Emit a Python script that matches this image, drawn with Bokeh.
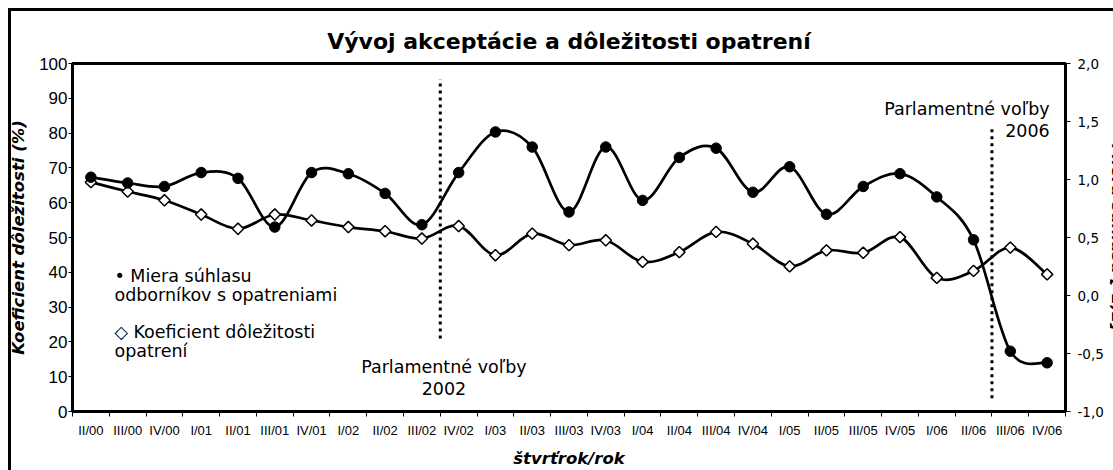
import numpy as np
from math import pi
from bokeh.plotting import figure
from bokeh.models import (Range1d, LinearAxis, FixedTicker, CustomJSTickFormatter,
                          Label, SingleIntervalTicker)
from bokeh.embed import file_html
from bokeh.resources import INLINE

# ---------------- data ----------------
quarters = ["II/00", "III/00", "IV/00", "I/01", "II/01", "III/01", "IV/01", "I/02",
            "II/02", "III/02", "IV/02", "I/03", "II/03", "III/03", "IV/03", "I/04",
            "II/04", "III/04", "IV/04", "I/05", "II/05", "III/05", "IV/05", "I/06",
            "II/06", "III/06", "IV/06"]

# Miera súhlasu odborníkov s opatreniami (right axis, -1..2)
agreement = [1.02, 0.97, 0.94, 1.06, 1.01, 0.59, 1.06, 1.05, 0.88, 0.61, 1.06, 1.41,
             1.28, 0.72, 1.28, 0.82, 1.19, 1.27, 0.89, 1.11, 0.70, 0.94, 1.05, 0.85,
             0.48, -0.48, -0.58]

# Koeficient dôležitosti opatrení (left axis, %)
importance = [65.9, 63.2, 60.7, 56.6, 52.5, 56.6, 54.9, 53.0, 51.8, 49.7, 53.3, 44.9,
              51.1, 47.8, 49.2, 43.0, 45.8, 51.6, 48.2, 41.7, 46.3, 45.6, 50.1, 38.4,
              40.4, 47.1, 39.4]

# elections: placed at the boundary before the given quarter
election_quarters = ["IV/02", "III/06"]
election_names = ["2002", "2006"]

left_ticks = list(range(0, 101, 10))

# ---------------- figure ----------------
n = len(quarters)
xs = np.arange(n) + 0.5

# the chart is wider than the window: its right edge is cut off, as in the original
p = figure(width=1140, height=470, x_range=Range1d(0, n), y_range=Range1d(0, 100),
           output_backend="svg", toolbar_location=None,
           title="Vývoj akceptácie a dôležitosti opatrení",
           min_border_left=72, min_border_right=75, min_border_top=63, min_border_bottom=58)
p.extra_y_ranges = {"r": Range1d(-1, 2)}
p.xgrid.visible = False
p.ygrid.visible = False
p.outline_line_color = "black"
p.outline_line_width = 3
p.background_fill_color = "white"
p.border_fill_color = None
# outer chart border (top and left edges, the rest lies outside the window)
p.styles = {"background-image": "linear-gradient(#000,#000), linear-gradient(#000,#000)",
            "background-size": "100% 3px, 3px 100%",
            "background-position": "8px 8px, 8px 8px",
            "background-repeat": "no-repeat"}
try:
    from bokeh.models import GlobalInlineStyleSheet
    p.stylesheets = [GlobalInlineStyleSheet(css="html, body { overflow: hidden !important; }")]
except Exception:
    pass

t = p.title
t.align = "center"
t.text_font = "DejaVu Sans"
t.text_font_size = "22px"
t.text_font_style = "bold"
t.text_color = "black"
t.standoff = 19

# x axis
xa = p.xaxis[0]
xa.ticker = FixedTicker(ticks=list(xs), minor_ticks=list(range(n + 1)))
xa.formatter = CustomJSTickFormatter(args=dict(labels=quarters), code="""
const i = Math.round(tick - 0.5);
return (i >= 0 && i < labels.length) ? labels[i] : '';
""")
xa.axis_line_width = 3
xa.major_tick_line_color = None
xa.major_tick_out = 5
xa.major_tick_in = 0
xa.minor_tick_out = 5
xa.minor_tick_in = 0
xa.minor_tick_line_width = 1
xa.major_label_standoff = 6
xa.major_label_text_font = "Liberation Sans"
xa.major_label_text_font_size = "13px"
xa.major_label_text_color = "black"
xa.axis_label = "štvrťrok/rok"
xa.axis_label_text_font = "DejaVu Sans"
xa.axis_label_text_font_size = "16.5px"
xa.axis_label_text_font_style = "bold italic"
xa.axis_label_text_color = "black"
xa.axis_label_standoff = 8

# left axis
ya = p.yaxis[0]
ya.ticker = FixedTicker(ticks=left_ticks)
ya.axis_line_width = 3
ya.major_tick_out = 4
ya.major_tick_in = 0
ya.minor_tick_line_color = None
ya.major_label_standoff = 1
ya.major_label_text_font = "Liberation Sans"
ya.major_label_text_font_size = "17px"
ya.major_label_text_color = "black"
ya.axis_label = "Koeficient dôležitosti (%)"
ya.axis_label_text_font = "DejaVu Sans"
ya.axis_label_text_font_size = "16.5px"
ya.axis_label_text_font_style = "bold italic"
ya.axis_label_text_color = "black"
ya.axis_label_standoff = 8

# right axis
ra = LinearAxis(y_range_name="r", ticker=SingleIntervalTicker(interval=0.5),
                formatter=CustomJSTickFormatter(code="return tick.toFixed(1).replace('.', ',');"))
ra.axis_line_width = 3
ra.major_tick_out = 5
ra.major_tick_in = 0
ra.minor_tick_line_color = None
ra.major_label_standoff = 7
ra.major_label_text_font = "DejaVu Sans"
ra.major_label_text_font_size = "13.5px"
ra.major_label_text_color = "black"
ra.axis_label = "Miera súhlasu [-2;2]"
ra.axis_label_text_font = "DejaVu Sans"
ra.axis_label_text_font_size = "16.5px"
ra.axis_label_text_font_style = "bold italic"
ra.axis_label_text_color = "black"
ra.axis_label_standoff = 1
p.add_layout(ra, "right")


# ---------------- smoothed lines (Catmull-Rom as cubic Bezier) ----------------
def bezier_segments(x, y):
    x = np.asarray(x, float)
    y = np.asarray(y, float)
    xp = np.concatenate([[x[0]], x, [x[-1]]])
    yp = np.concatenate([[y[0]], y, [y[-1]]])
    x0, y0 = x[:-1], y[:-1]
    x1, y1 = x[1:], y[1:]
    cx0 = x0 + (xp[2:-1] - xp[:-3]) / 6.0
    cy0 = y0 + (yp[2:-1] - yp[:-3]) / 6.0
    cx1 = x1 - (xp[3:] - xp[1:-2]) / 6.0
    cy1 = y1 - (yp[3:] - yp[1:-2]) / 6.0
    return dict(x0=x0, y0=y0, x1=x1, y1=y1, cx0=cx0, cy0=cy0, cx1=cx1, cy1=cy1)

p.bezier(line_color="black", line_width=2.7, **bezier_segments(xs, importance))
p.bezier(line_color="black", line_width=2.7, y_range_name="r", **bezier_segments(xs, agreement))

p.scatter(xs, importance, marker="square", angle=pi / 4, size=8,
          fill_color="white", line_color="black", line_width=1.5)
p.scatter(xs, agreement, marker="circle", size=10.5, y_range_name="r",
          fill_color="black", line_color="black")

# election lines
ex = [quarters.index(q) for q in election_quarters]
p.segment(x0=ex, x1=ex, y0=[21.0, 3.8], y1=[95.5, 81.2], line_color="black",
          line_width=3, line_dash="3 4")

# ---------------- texts inside the plot area ----------------
def lab(text, x, y, size, align="left", font="DejaVu Sans", style="normal", angle=0):
    p.add_layout(Label(x=x, y=y, text=text, text_font=font, text_font_size=size,
                       text_font_style=style, text_align=align, text_baseline="alphabetic",
                       text_color="black", angle=angle))

lab("Parlamentné voľby", ex[0] + 0.1, 12.9, "17.5px", "center")
lab(election_names[0], ex[0] + 0.1, 6.7, "17.5px", "center")
lab("Parlamentné voľby", ex[1] + 1.57, 86.9, "17.5px", "right")
lab(election_names[1], ex[1] + 1.57, 80.7, "17.5px", "right")

lab("\u2022 Miera súhlasu", 1.14, 38.9, "17.5px")
lab("odborníkov s opatreniami", 1.14, 33.4, "17.5px")
lab("\u25c7 Koeficient dôležitosti", 1.14, 22.9, "17.5px")
lab("opatrení", 1.14, 17.5, "17.5px")

open("out.html", "w").write(file_html(p, INLINE))
